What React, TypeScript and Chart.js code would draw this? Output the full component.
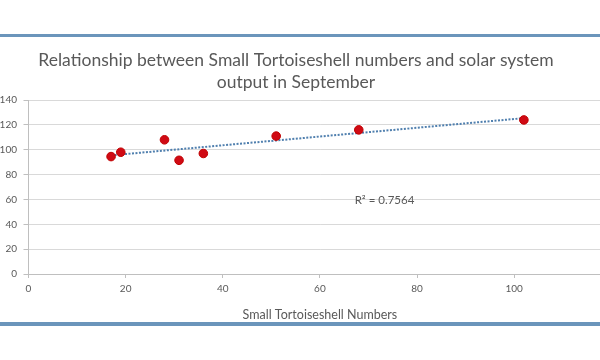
import React, { useEffect, useRef } from "react";
import { Chart, registerables } from "chart.js";

Chart.register(...registerables);

const titleLines = [
  "Relationship between Small Tortoiseshell numbers and solar system",
  "output in September",
];
const xAxisTitle = "Small Tortoiseshell Numbers";
const tortoiseshellNumbers = [17, 19, 28, 31, 36, 51, 68, 102];
const solarOutput = [94.5, 98, 108, 91.5, 97, 111, 116, 124];
const rSquaredText = "R² = 0.7564";
const xRange = [0, 120];
const yRange = [0, 140];
const tickStep = 20;

function regression(xs: number[], ys: number[]) {
  const n = xs.length;
  const mx = xs.reduce((a, b) => a + b, 0) / n;
  const my = ys.reduce((a, b) => a + b, 0) / n;
  let sxy = 0;
  let sxx = 0;
  for (let i = 0; i < n; i++) {
    sxy += (xs[i] - mx) * (ys[i] - my);
    sxx += (xs[i] - mx) * (xs[i] - mx);
  }
  const slope = sxy / sxx;
  return { slope, intercept: my - slope * mx };
}

const FONT = "Lato, 'Open Sans', sans-serif";
const TEXT = "#595959";

const rLabelPlugin = {
  id: "rLabel",
  afterDatasetsDraw(chart: any) {
    const { ctx, scales } = chart;
    const x = scales.x.getPixelForValue(73.3);
    const y = scales.y.getPixelForValue(59.5);
    ctx.save();
    ctx.font = `11.5px ${FONT}`;
    ctx.fillStyle = TEXT;
    ctx.textAlign = "center";
    ctx.textBaseline = "middle";
    ctx.fillText(rSquaredText, x, y);
    ctx.restore();
  },
};

export default function App() {
  const canvasRef = useRef<HTMLCanvasElement | null>(null);

  useEffect(() => {
    if (!canvasRef.current) return;
    const points = tortoiseshellNumbers.map((x, i) => ({ x, y: solarOutput[i] }));
    const { slope, intercept } = regression(tortoiseshellNumbers, solarOutput);
    const xMin = Math.min(...tortoiseshellNumbers);
    const xMax = Math.max(...tortoiseshellNumbers);
    const trend = [
      { x: xMin, y: intercept + slope * xMin },
      { x: xMax, y: intercept + slope * xMax },
    ];

    const chart = new Chart(canvasRef.current, {
      type: "scatter",
      data: {
        datasets: [
          {
            type: "line",
            label: "Trend",
            data: trend,
            borderColor: "#4f7fae",
            borderWidth: 2,
            borderDash: [2, 1.5],
            pointRadius: 0,
            fill: false,
            order: 2,
          } as any,
          {
            label: "Output",
            data: points,
            backgroundColor: "#d00a14",
            borderColor: "#c00000",
            borderWidth: 1,
            pointRadius: 4.3,
            order: 1,
          },
        ],
      },
      options: {
        responsive: false,
        animation: false,
        layout: { padding: { left: 0, right: 0, top: 0, bottom: 0 } },
        plugins: {
          legend: { display: false },
          tooltip: { enabled: false },
          title: {
            display: true,
            text: titleLines,
            color: TEXT,
            font: { family: FONT, size: 17.5, weight: "normal", lineHeight: 1.23 },
            padding: { top: 10, bottom: 7 },
          },
        },
        scales: {
          x: {
            type: "linear",
            min: xRange[0],
            max: xRange[1],
            ticks: {
              stepSize: tickStep,
              color: TEXT,
              padding: 5,
              font: { family: FONT, size: 10 },
            },
            grid: {
              drawOnChartArea: false,
              drawTicks: true,
              tickLength: 4,
              tickColor: "#bfbfbf",
            },
            border: { color: "#bfbfbf" },
            title: {
              display: true,
              text: xAxisTitle,
              color: TEXT,
              font: { family: FONT, size: 12.5 },
              padding: { top: 7, bottom: 0 },
            },
          },
          y: {
            type: "linear",
            min: yRange[0],
            max: yRange[1],
            afterFit: (scale: any) => {
              scale.width = 61.5;
            },
            ticks: {
              stepSize: tickStep,
              color: TEXT,
              padding: 6.5,
              font: { family: FONT, size: 10 },
            },
            grid: {
              color: "#d9d9d9",
              tickColor: "#bfbfbf",
              tickLength: 5,
            },
            border: { color: "#bfbfbf" },
          },
        },
      },
      plugins: [rLabelPlugin],
    });
    return () => chart.destroy();
  }, []);

  return (
    <div
      style={{
        position: "fixed",
        left: 0,
        top: 0,
        width: 600,
        height: 360,
        overflow: "hidden",
        background: "#ffffff",
      }}
    >
      <div style={{ position: "absolute", left: 0, top: 34, width: 600, height: 3, background: "#6b95bb" }} />
      <canvas
        ref={canvasRef}
        width={658}
        height={282}
        style={{ position: "absolute", left: -33, top: 40, width: 658, height: 282 }}
      />
      <div style={{ position: "absolute", left: 0, top: 322, width: 600, height: 4, background: "#6b95bb" }} />
    </div>
  );
}
